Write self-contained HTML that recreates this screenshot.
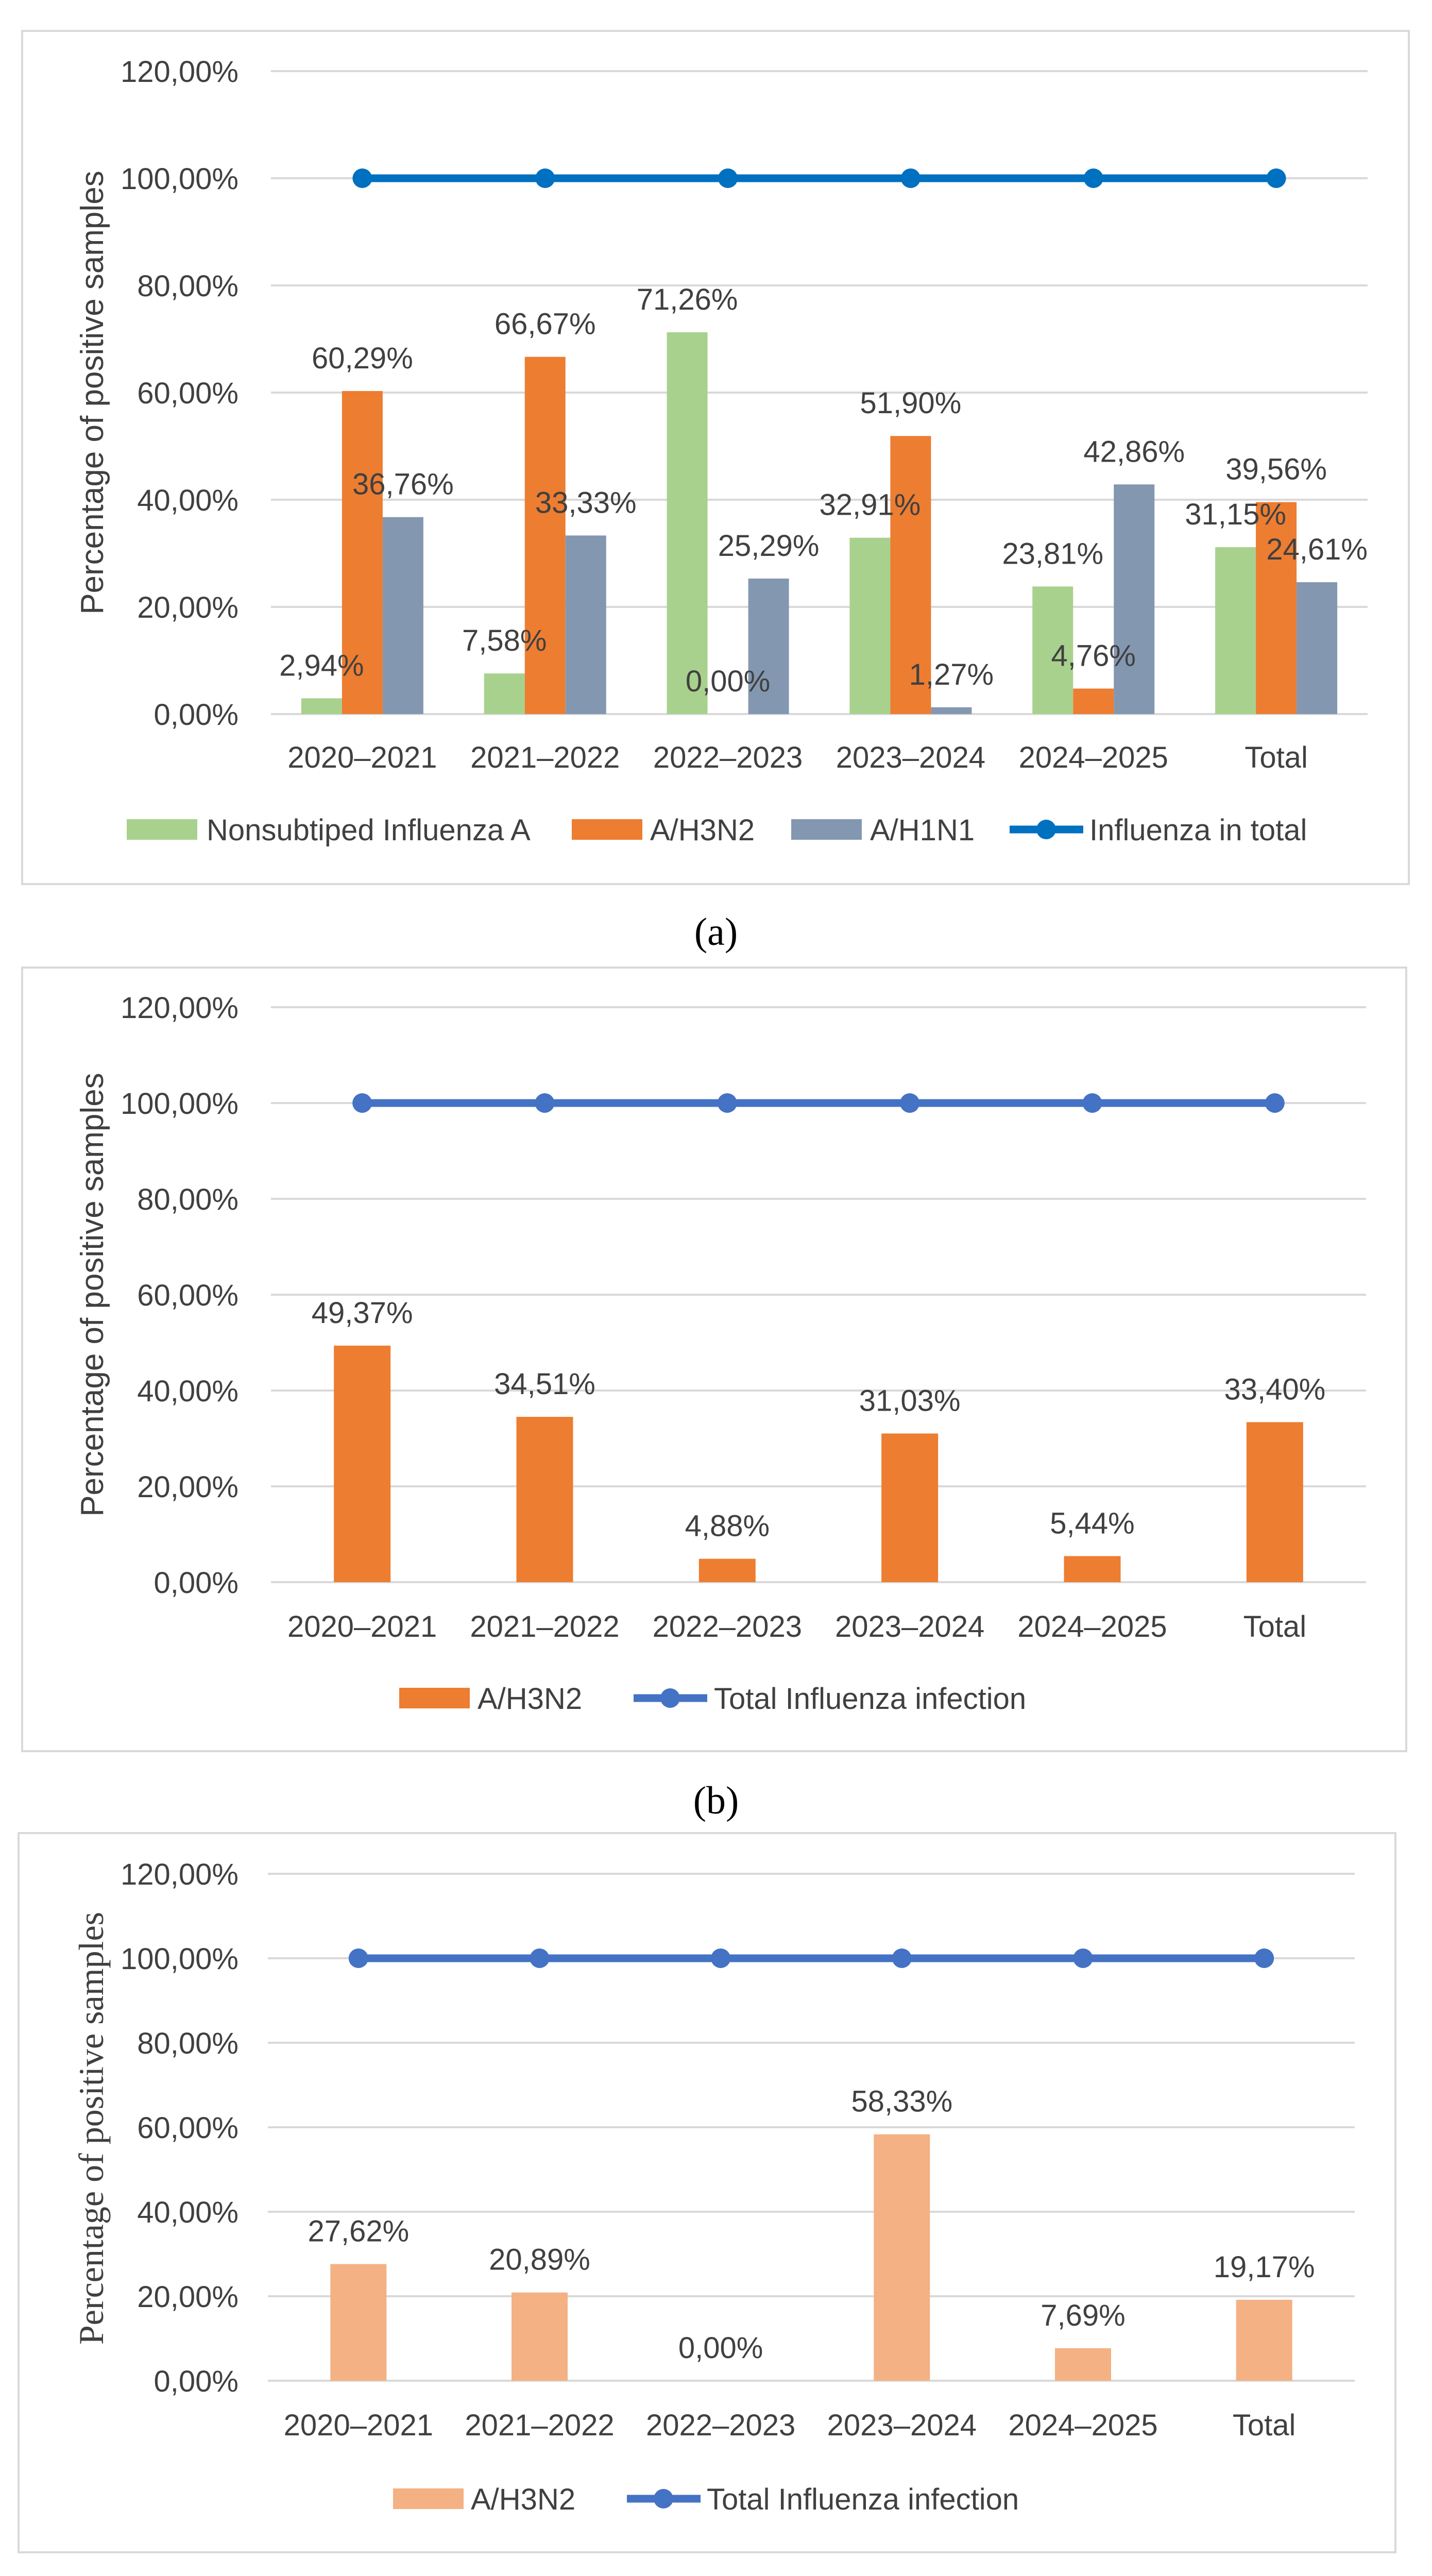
<!DOCTYPE html>
<html><head><meta charset="utf-8">
<style>
html,body{margin:0;padding:0;background:#fff;width:2780px;height:5145px;overflow:hidden;}
svg{display:block;position:absolute;left:0;top:0;}
text{font-family:"Liberation Sans",sans-serif;fill:#404040;}
</style></head>
<body>
<svg id="root" width="2780" height="5145" viewBox="0 0 2780 5145" xmlns="http://www.w3.org/2000/svg"></svg>
<script>
const categories = ["2020–2021","2021–2022","2022–2023","2023–2024","2024–2025","Total"];
const tickValues = [0,20,40,60,80,100,120];
const tickLabels = ["0,00%","20,00%","40,00%","60,00%","80,00%","100,00%","120,00%"];
// chart a
const aNonsub = [2.94,7.58,71.26,32.91,23.81,31.15];
const aH3N2 = [60.29,66.67,0.00,51.90,4.76,39.56];
const aH1N1 = [36.76,33.33,25.29,1.27,42.86,24.61];
const aTotal = [100,100,100,100,100,100];
// chart b
const bH3N2 = [49.37,34.51,4.88,31.03,5.44,33.40];
const bTotal = [100,100,100,100,100,100];
// chart c
const cH3N2 = [27.62,20.89,0.00,58.33,7.69,19.17];
const cTotal = [100,100,100,100,100,100];

const NS="http://www.w3.org/2000/svg";
const root=document.getElementById('root');
function mk(tag,attrs,parent){const e=document.createElementNS(NS,tag);for(const k in attrs)e.setAttribute(k,attrs[k]);(parent||root).appendChild(e);return e;}
function fmt(v){return v.toFixed(2).replace('.',',')+'%';}

function chart(cfg){
  const g=mk('g',{});
  
  
  const box=mk('rect',{x:cfg.box[0],y:cfg.box[1],width:cfg.box[2]-cfg.box[0],height:cfg.box[3]-cfg.box[1],fill:'#fff',stroke:'#D9D9D9','stroke-width':4},g);
  
  
  const y0=cfg.y0,y120=cfg.y120;
  const yS=v=>y0-(v/120)*(y0-y120);
  const L=cfg.px[0],R=cfg.px[1],bw=(R-L)/categories.length;
  const xS=i=>L+bw*(i+0.5);
  tickValues.forEach((t,i)=>{
    const ln=mk('line',{x1:L,x2:R,y1:yS(t),y2:yS(t),stroke:'#D9D9D9','stroke-width':4},g);
    
    
    const tx=mk('text',{x:463,y:yS(t)+21,'text-anchor':'end','font-size':58},g);
    tx.textContent=tickLabels[i];
    
    
  });
  categories.forEach((c,i)=>{
    const tx=mk('text',{x:xS(i),y:cfg.catY+21,'text-anchor':'middle','font-size':58},g);
    tx.textContent=c;
    
    
  });
  const yt=mk('text',{x:0,y:0,transform:`translate(200,${cfg.titleY}) rotate(-90)`,'text-anchor':'middle','font-size':cfg.serif?68:62,style:cfg.serif?'font-family:"Liberation Serif",serif':''},g);
  yt.textContent='Percentage of positive samples';
  
  
  const n=cfg.series.length;
  cfg.series.forEach((s,si)=>{
    s.data.forEach((v,i)=>{
      const x=xS(i)+(si-(n-1)/2)*cfg.barW-cfg.barW/2;
      const r=mk('rect',{x:x,y:yS(v),width:cfg.barW,height:y0-yS(v),fill:s.color},g);
      
      
    });
  });
  cfg.series.forEach((s,si)=>{
    s.data.forEach((v,i)=>{
      const x=xS(i)+(si-(n-1)/2)*cfg.barW;
      const t=mk('text',{x:x,y:yS(v)-44,'text-anchor':'middle','font-size':58},g);
      t.textContent=fmt(v);
      
      
    });
  });
  const pts=cfg.line.data.map((v,i)=>xS(i)+','+yS(v)).join(' ');
  const pl=mk('polyline',{points:pts,fill:'none',stroke:cfg.line.color,'stroke-width':15},g);
  
  
  cfg.line.data.forEach((v,i)=>{
    const c=mk('circle',{cx:xS(i),cy:yS(v),r:19,fill:cfg.line.color},g);
    
    
  });
  cfg.legend.forEach(it=>{
    if(it.type==='bar'){
      const r=mk('rect',{x:it.x,y:cfg.legY-20,width:137,height:40,fill:it.color},g);
      
      
    } else {
      const l=mk('line',{x1:it.x,x2:it.x+143,y1:cfg.legY,y2:cfg.legY,stroke:it.color,'stroke-width':15},g);
      
      
      const c=mk('circle',{cx:it.x+71,cy:cfg.legY,r:19,fill:it.color},g);
      
      
    }
    const t=mk('text',{x:it.tx,y:cfg.legY+21,'font-size':58},g);
    t.textContent=it.label;
    
    
  });
  const cap=mk('text',{x:1390,y:cfg.capY+25,'text-anchor':'middle','font-size':76,style:'font-family:"Liberation Serif",serif;fill:#000'},g);
  cap.textContent=cfg.cap;
  
  
}

chart({name:'chart-a',box:[43,60,2735,1716],y0:1386,y120:138,px:[526,2655],catY:1469,legY:1610,titleY:762,capY:1809,cap:'(a)',barW:79,
  series:[{key:'nonsubtyped',data:aNonsub,color:'#A9D18E'},{key:'h3n2',data:aH3N2,color:'#ED7D31'},{key:'h1n1',data:aH1N1,color:'#8497B0'}],
  line:{data:aTotal,color:'#0070C0'},
  legend:[{type:'bar',x:246,tx:401,color:'#A9D18E',label:'Nonsubtiped Influenza A'},{type:'bar',x:1110,tx:1262,color:'#ED7D31',label:'A/H3N2'},{type:'bar',x:1536,tx:1689,color:'#8497B0',label:'A/H1N1'},{type:'line',x:1960,tx:2115,color:'#0070C0',label:'Influenza in total'}]});

chart({name:'chart-b',box:[43,1878,2730,3399],y0:3071,y120:1955,px:[526,2652],catY:3156,legY:3296,titleY:2513,capY:3495,cap:'(b)',barW:110,
  series:[{key:'h3n2',data:bH3N2,color:'#ED7D31'}],
  line:{data:bTotal,color:'#4472C4'},
  legend:[{type:'bar',x:775,tx:927,color:'#ED7D31',label:'A/H3N2'},{type:'line',x:1230,tx:1386,color:'#4472C4',label:'Total Influenza infection'}]});

chart({name:'chart-c',box:[36,3558,2709,4954],y0:4621,y120:3637,px:[520,2630],catY:4706,legY:4850,titleY:4131,capY:5046,cap:'(c)',barW:109,serif:true,
  series:[{key:'h3n2',data:cH3N2,color:'#F4B183'}],
  line:{data:cTotal,color:'#4472C4'},
  legend:[{type:'bar',x:763,tx:914,color:'#F4B183',label:'A/H3N2'},{type:'line',x:1217,tx:1372,color:'#4472C4',label:'Total Influenza infection'}]});
</script>
</body></html>
